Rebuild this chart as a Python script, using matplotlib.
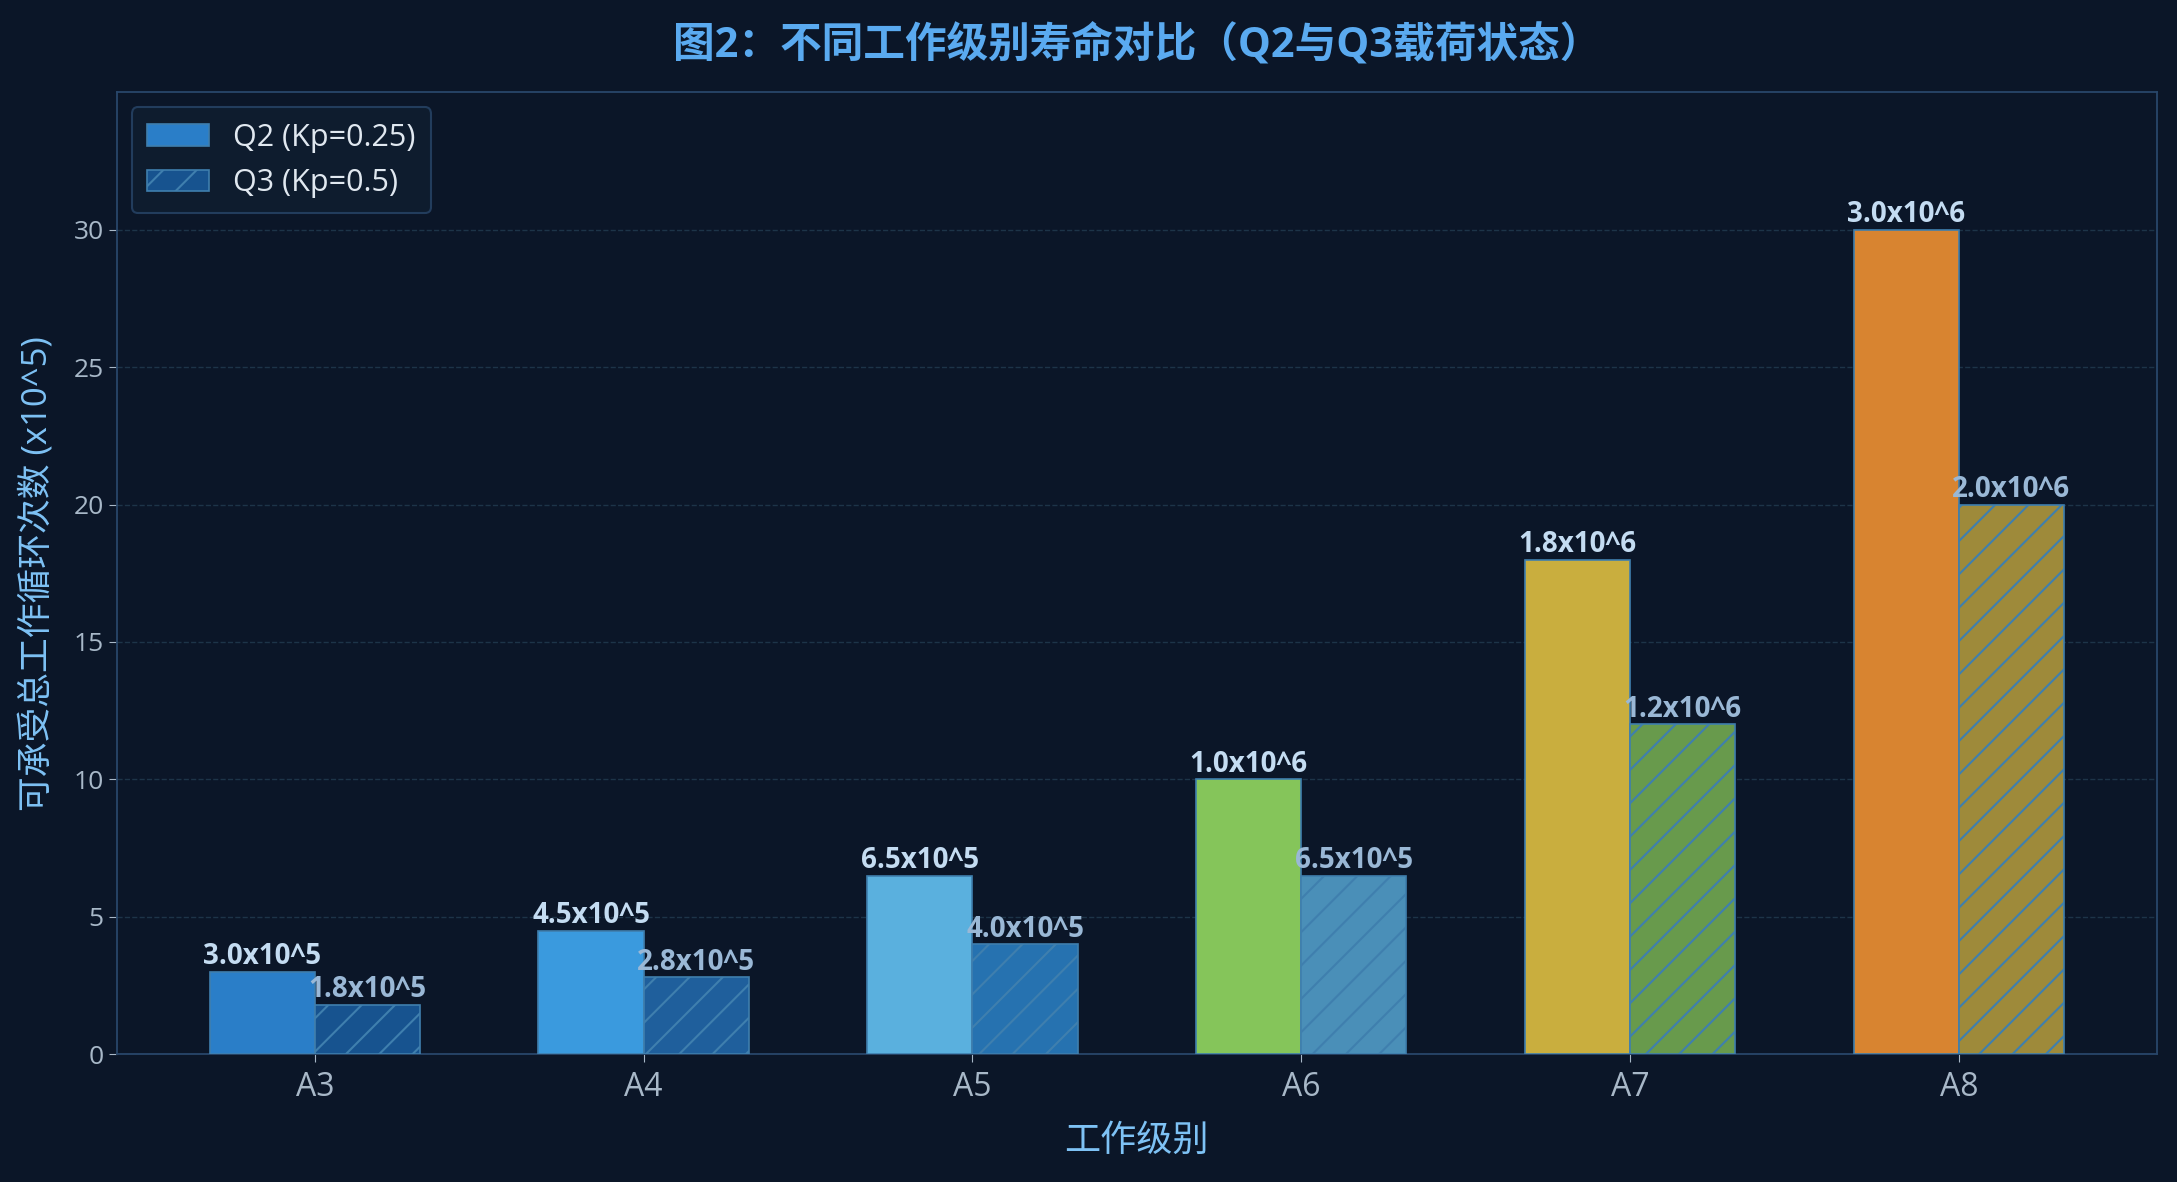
import matplotlib
matplotlib.use("Agg")
from matplotlib import pyplot as plt
import numpy as np

plt.rcParams['font.family'] = ['Open Sans', 'Noto Sans CJK SC', 'DejaVu Sans']
plt.rcParams['axes.unicode_minus'] = False
plt.rcParams['hatch.linewidth'] = 1.5

levels = ["A3", "A4", "A5", "A6", "A7", "A8"]
q2_life = [3.0, 4.5, 6.5, 10.0, 18.0, 30.0]   # x10^5
q3_life = [1.8, 2.8, 4.0, 6.5, 12.0, 20.0]
q2_labels = ["3.0x10^5", "4.5x10^5", "6.5x10^5", "1.0x10^6", "1.8x10^6", "3.0x10^6"]
q3_labels = ["1.8x10^5", "2.8x10^5", "4.0x10^5", "6.5x10^5", "1.2x10^6", "2.0x10^6"]
q2_colors = ["#2a7ec8", "#3a9ade", "#5ab0de", "#85c55a", "#c9ae3e", "#d88430"]
q3_colors = ["#17538f", "#1f5f9c", "#2672b0", "#4a8fb8", "#689a4c", "#9e8a3a"]

BG = "#0b1628"
EDGE = "#3f7fae"

fig = plt.figure(figsize=(21.77, 11.82), dpi=100, facecolor=BG)
ax = fig.add_axes([0.0537, 0.108, 0.937, 0.814])
ax.set_facecolor(BG)

x = np.arange(len(levels))
w = 0.32
b2 = ax.bar(x - w/2, q2_life, w, color=q2_colors, edgecolor=EDGE, linewidth=1.2,
            label="Q2 (Kp=0.25)", zorder=3)
b3 = ax.bar(x + w/2, q3_life, w, color=q3_colors, edgecolor=EDGE, linewidth=1.2,
            hatch="/", label="Q3 (Kp=0.5)", zorder=3)

for rect, txt in zip(b2, q2_labels):
    ax.text(rect.get_x() + rect.get_width()/2, rect.get_height() + 0.02, txt,
            ha="center", va="bottom", fontsize=20, fontweight="bold", color="#c4dcf2", zorder=4)
for rect, txt in zip(b3, q3_labels):
    ax.text(rect.get_x() + rect.get_width()/2, rect.get_height() + 0.02, txt,
            ha="center", va="bottom", fontsize=20, fontweight="bold", color="#9ab8d6", zorder=4)

ax.set_ylim(0, 35)
ax.set_yticks([0, 5, 10, 15, 20, 25, 30])
ax.set_xticks(x)
ax.set_xticklabels(levels)
ax.tick_params(axis="x", colors="#a8b8c8", labelsize=23, length=6, pad=6)
ax.tick_params(axis="y", colors="#a8b8c8", labelsize=19, length=6)
ax.grid(axis="y", linestyle="--", color="#1d3448", linewidth=1, zorder=0)
for s in ax.spines.values():
    s.set_color("#28466a")
    s.set_linewidth(1.3)

ax.set_xlabel("工作级别", fontsize=26, color="#7ec2f5", labelpad=14)
ax.set_ylabel("可承受总工作循环次数 (x10^5)", fontsize=25, color="#7ec2f5", labelpad=14)
ax.set_title("图2：不同工作级别寿命对比（Q2与Q3载荷状态）", fontsize=30, fontweight="bold",
             color="#5aaaf0", pad=26)

leg = ax.legend(loc="upper left", fontsize=22, facecolor="#0f1e30", edgecolor="#28466a",
                labelcolor="#e0e8f0", borderpad=0.5, handlelength=2.0)
leg.get_frame().set_linewidth(1.5)

fig.savefig("out.png", dpi=100, facecolor=BG)
